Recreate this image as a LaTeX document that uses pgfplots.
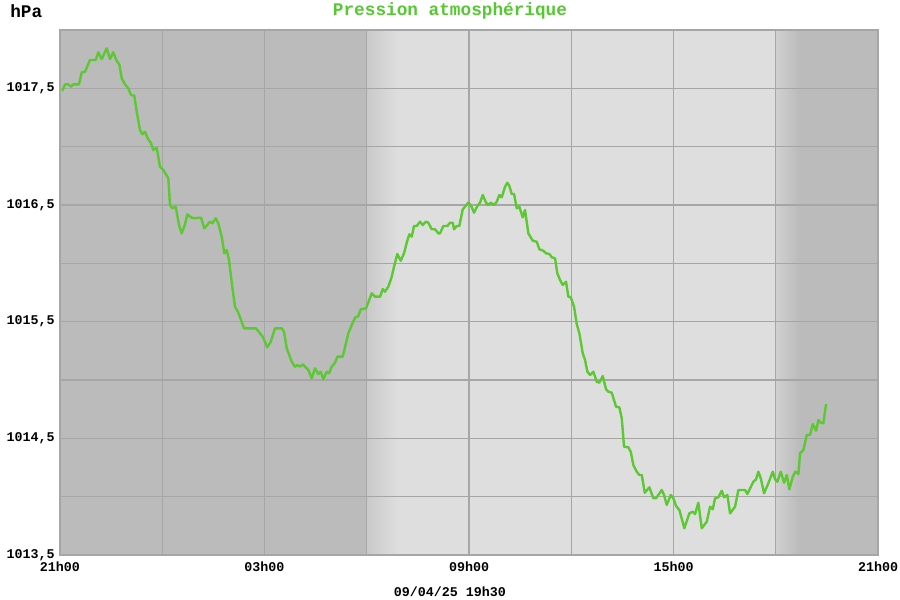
\documentclass[border=0pt]{standalone}
\usepackage{pgfplots}
\pgfplotsset{compat=1.18}
\usepackage{fontspec}
\setmainfont{Liberation Mono}
\setmonofont{Liberation Mono}
\definecolor{night}{HTML}{BBBBBB}
\definecolor{day}{HTML}{DEDEDE}
\definecolor{gridc}{HTML}{A6A6A6}
\definecolor{pgreen}{HTML}{5CC832}
\definecolor{tgreen}{HTML}{55C833}
\begin{document}
\begin{tikzpicture}
\begin{axis}[
  set layers=standard,
  scale only axis,
  width=613.5pt, height=393.75pt,
  xmin=0, xmax=24, ymin=1013.5, ymax=1018,
  xtick={0,3,...,24},
  xticklabels={21h00,,03h00,,09h00,,15h00,,21h00},
  ytick={1013.5,1014,1014.5,1015,1015.5,1016,1016.5,1017,1017.5,1018},
  yticklabels={{1013,5},{},{1014,5},{},{1015,5},{},{1016,5},{},{1017,5},{}},
  major tick length=0pt,
  grid=major,
  major grid style={draw=gridc, line width=1.1pt},
  axis line style={draw=gridc, line width=1.4pt},
  tick label style={font=\ttfamily\bfseries\fontsize{10}{12}\selectfont, inner sep=0pt},
  yticklabel style={anchor=east, xshift=-3.75pt},
  xticklabel style={anchor=north, yshift=-5pt},
]
\addplot[on layer=axis background, fill=night, draw=none] coordinates {(0,1013.5) (0,1018) (9,1018) (9,1013.5)} -- cycle;
\addplot[on layer=axis background, left color=night!60!day, right color=day, draw=none] coordinates {(9,1013.5) (9,1018) (9.9,1018) (9.9,1013.5)} -- cycle;
\addplot[on layer=axis background, fill=day, draw=none] coordinates {(9.9,1013.5) (9.9,1018) (21,1018) (21,1013.5)} -- cycle;
\addplot[on layer=axis background, left color=night!40!day, right color=night, draw=none] coordinates {(21,1013.5) (21,1018) (21.7,1018) (21.7,1013.5)} -- cycle;
\addplot[on layer=axis background, fill=night, draw=none] coordinates {(21.7,1013.5) (21.7,1018) (24,1018) (24,1013.5)} -- cycle;
\addplot[pgreen, line width=1.8pt, line join=round] table {
h v
0.067 1017.477
0.147 1017.534
0.244 1017.534
0.323 1017.514
0.390 1017.534
0.558 1017.534
0.637 1017.637
0.734 1017.642
0.880 1017.743
1.048 1017.743
1.124 1017.809
1.224 1017.751
1.370 1017.843
1.467 1017.751
1.564 1017.809
1.664 1017.734
1.740 1017.706
1.810 1017.586
1.907 1017.534
2.004 1017.500
2.083 1017.443
2.180 1017.437
2.251 1017.300
2.347 1017.143
2.415 1017.106
2.494 1017.128
2.573 1017.072
2.670 1017.029
2.738 1016.971
2.837 1016.991
2.934 1016.828
3.031 1016.800
3.178 1016.729
3.228 1016.500
3.295 1016.472
3.395 1016.485
3.492 1016.328
3.571 1016.257
3.668 1016.334
3.735 1016.420
3.864 1016.391
3.961 1016.386
4.040 1016.391
4.137 1016.391
4.234 1016.300
4.334 1016.334
4.401 1016.357
4.469 1016.343
4.569 1016.386
4.645 1016.343
4.745 1016.228
4.821 1016.086
4.892 1016.114
4.959 1016.028
5.047 1015.814
5.135 1015.626
5.223 1015.583
5.311 1015.514
5.399 1015.443
5.575 1015.443
5.751 1015.443
5.948 1015.371
6.083 1015.280
6.183 1015.328
6.309 1015.443
6.505 1015.443
6.573 1015.414
6.652 1015.272
6.799 1015.157
6.896 1015.114
6.963 1015.128
7.042 1015.114
7.121 1015.134
7.189 1015.114
7.286 1015.086
7.386 1015.014
7.482 1015.100
7.579 1015.051
7.650 1015.071
7.726 1015.006
7.826 1015.071
7.893 1015.057
7.972 1015.114
8.069 1015.148
8.137 1015.200
8.295 1015.200
8.460 1015.400
8.559 1015.471
8.656 1015.534
8.753 1015.548
8.823 1015.606
8.979 1015.614
9.146 1015.743
9.243 1015.714
9.390 1015.714
9.469 1015.780
9.536 1015.757
9.633 1015.800
9.733 1015.885
9.800 1015.971
9.897 1016.080
9.997 1016.022
10.094 1016.086
10.173 1016.177
10.249 1016.249
10.320 1016.228
10.387 1016.320
10.467 1016.320
10.563 1016.357
10.643 1016.328
10.731 1016.357
10.807 1016.348
10.907 1016.292
11.004 1016.292
11.100 1016.257
11.150 1016.257
11.247 1016.320
11.365 1016.320
11.444 1016.348
11.523 1016.348
11.561 1016.292
11.640 1016.320
11.717 1016.320
11.816 1016.463
11.981 1016.520
12.051 1016.500
12.148 1016.434
12.245 1016.491
12.324 1016.520
12.403 1016.586
12.500 1016.520
12.568 1016.500
12.638 1016.520
12.735 1016.500
12.814 1016.528
12.890 1016.586
12.961 1016.566
13.058 1016.657
13.125 1016.691
13.184 1016.663
13.254 1016.594
13.322 1016.594
13.401 1016.472
13.477 1016.485
13.577 1016.394
13.644 1016.457
13.741 1016.257
13.870 1016.194
13.988 1016.185
14.064 1016.120
14.181 1016.108
14.261 1016.086
14.357 1016.080
14.428 1016.052
14.525 1016.043
14.592 1015.914
14.671 1015.857
14.751 1015.814
14.847 1015.842
14.915 1015.714
14.985 1015.709
15.082 1015.628
15.161 1015.480
15.238 1015.400
15.337 1015.229
15.405 1015.171
15.473 1015.071
15.552 1015.043
15.649 1015.071
15.748 1014.985
15.824 1014.977
15.924 1015.034
16.021 1014.920
16.088 1014.900
16.188 1014.891
16.315 1014.771
16.411 1014.766
16.482 1014.672
16.549 1014.428
16.675 1014.423
16.746 1014.385
16.822 1014.271
16.922 1014.214
16.998 1014.186
17.069 1014.186
17.157 1014.034
17.292 1014.080
17.409 1013.986
17.488 1013.986
17.655 1014.057
17.723 1014.014
17.802 1013.929
17.919 1014.014
17.996 1013.986
18.075 1013.920
18.172 1013.886
18.319 1013.729
18.465 1013.857
18.565 1013.871
18.632 1013.851
18.729 1013.948
18.829 1013.729
18.976 1013.785
19.073 1013.914
19.152 1013.892
19.219 1013.986
19.316 1013.995
19.416 1014.051
19.484 1013.995
19.580 1014.014
19.660 1013.857
19.806 1013.914
19.903 1014.057
20.100 1014.057
20.167 1014.023
20.343 1014.128
20.423 1014.149
20.490 1014.214
20.561 1014.157
20.657 1014.029
20.783 1014.115
20.912 1014.214
20.980 1014.149
21.047 1014.128
21.147 1014.214
21.244 1014.120
21.323 1014.186
21.399 1014.063
21.499 1014.171
21.576 1014.214
21.664 1014.194
21.714 1014.372
21.810 1014.400
21.910 1014.529
22.007 1014.529
22.086 1014.623
22.183 1014.565
22.251 1014.657
22.321 1014.634
22.397 1014.629
22.476 1014.794
};
\end{axis}
\node[font=\ttfamily\bfseries\fontsize{13.3}{15}\selectfont, text=tgreen, inner sep=0pt] at (292.5pt,408pt) {Pression atmosphérique};
\node[font=\ttfamily\bfseries\fontsize{13.3}{15}\selectfont, anchor=west, inner sep=0pt] at (-37.5pt,408pt) {hPa};
\node[font=\ttfamily\bfseries\fontsize{10}{12}\selectfont, inner sep=0pt] at (292.5pt,-27.75pt) {09/04/25 19h30};
\pgfresetboundingbox
\useasboundingbox (-45pt,-33.75pt) rectangle (630pt,416.25pt);
\end{tikzpicture}
\end{document}
